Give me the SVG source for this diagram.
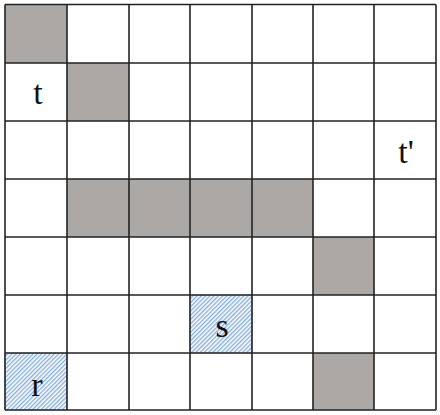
<svg xmlns="http://www.w3.org/2000/svg" width="440" height="415" viewBox="0 0 440 415">
<defs>
<pattern id="hatch" patternUnits="userSpaceOnUse" width="3" height="3" patternTransform="rotate(45)">
<rect width="3" height="3" fill="#ffffff"/>
<line x1="0.7" y1="0" x2="0.7" y2="3" stroke="#7fa9dd" stroke-width="1.3"/>
</pattern>
</defs>
<style>
.g{fill:#aca8a6}
.h{fill:url(#hatch);stroke:#7fa9dd;stroke-width:1;stroke-dasharray:1 1}
.grid line{stroke:#222;stroke-width:1.6}
.lbl{font-family:"Liberation Serif","Times New Roman",serif;font-size:34px;fill:#111;text-anchor:middle}
</style>
<rect x="0" y="0" width="440" height="415" fill="#ffffff"/>
<g id="cells">
<rect class="g" x="5" y="4.5" width="62" height="58.5"/>
<rect class="g" x="67" y="63" width="62" height="58"/>
<rect class="g" x="67" y="179" width="62" height="58"/>
<rect class="g" x="129" y="179" width="61" height="58"/>
<rect class="g" x="190" y="179" width="62" height="58"/>
<rect class="g" x="252" y="179" width="61" height="58"/>
<rect class="g" x="313" y="237" width="61" height="58"/>
<rect class="g" x="313" y="353" width="61" height="57"/>
<rect class="h" x="190" y="295" width="62" height="58"/>
<rect class="h" x="5" y="353" width="62" height="57"/>
</g>
<g id="grid" class="grid">
<line x1="5" y1="4.5" x2="5" y2="410"/>
<line x1="67" y1="4.5" x2="67" y2="410"/>
<line x1="129" y1="4.5" x2="129" y2="410"/>
<line x1="190" y1="4.5" x2="190" y2="410"/>
<line x1="252" y1="4.5" x2="252" y2="410"/>
<line x1="313" y1="4.5" x2="313" y2="410"/>
<line x1="374" y1="4.5" x2="374" y2="410"/>
<line x1="436" y1="4.5" x2="436" y2="410"/>
<line x1="5" y1="4.5" x2="436" y2="4.5"/>
<line x1="5" y1="63" x2="436" y2="63"/>
<line x1="5" y1="121" x2="436" y2="121"/>
<line x1="5" y1="179" x2="436" y2="179"/>
<line x1="5" y1="237" x2="436" y2="237"/>
<line x1="5" y1="295" x2="436" y2="295"/>
<line x1="5" y1="353" x2="436" y2="353"/>
<line x1="5" y1="410" x2="436" y2="410"/>
</g>
<g id="labels">
<text class="lbl" x="38" y="104">t</text>
<text class="lbl" x="406" y="163">t'</text>
<text class="lbl" x="222" y="337">s</text>
<text class="lbl" x="37" y="396">r</text>
</g>
</svg>
